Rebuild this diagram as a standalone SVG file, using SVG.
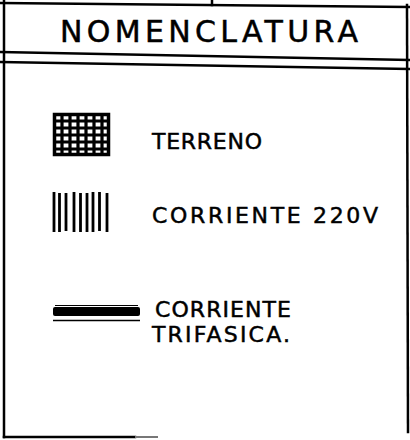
<svg xmlns="http://www.w3.org/2000/svg" width="410" height="440" viewBox="0 0 410 440">
<style>
.frame{stroke:#000;stroke-width:2.5;fill:none;stroke-linecap:square}
.t{font-family:"DejaVu Sans","Liberation Sans",Arial,sans-serif;fill:#000;stroke:#000;stroke-width:0.5}
.hatch{stroke:#000;fill:none}
</style>
<rect width="410" height="440" fill="#fff"/>
<g id="frame">
<line class="frame" x1="0" y1="3" x2="410" y2="7"/>
<line class="frame" x1="212" y1="0" x2="212" y2="5"/>
<line class="frame" x1="4" y1="0" x2="4" y2="437"/>
<line class="frame" x1="407" y1="5" x2="408" y2="432"/>
<line class="frame" x1="0" y1="52" x2="410" y2="60"/>
<line class="frame" x1="0" y1="62" x2="410" y2="69"/>
<line class="frame" x1="4" y1="437" x2="135" y2="437"/>
<line x1="135" y1="437" x2="158" y2="437" stroke="#777" stroke-width="2"/>
</g>
<g id="title">
<text class="t" x="60" y="42" font-size="30" stroke-width="0.8" textLength="298" lengthAdjust="spacing">NOMENCLATURA</text>
</g>
<g id="terreno">
<g class="hatch">
<rect x="54.5" y="114.5" width="54" height="40" stroke-width="3.5"/>
<path d="M62 114V155M70 114V155M78 114V155M86 114V155M94 114V155M102 114V155" stroke-width="3.2"/>
<path d="M54 121H109M54 128H109M54 135H109M54 142H109M54 149H109" stroke-width="3.2"/>
</g>
<text class="t" x="152" y="149" font-size="22" textLength="110" lengthAdjust="spacing">TERRENO</text>
</g>
<g id="corriente220">
<path class="hatch" stroke-width="2.8" d="M54 192V232M59.5 193V232M66 193V231M74 192V232M80.5 193V232M87 193V232M93 192V232M99.5 192V231M107 193V232"/>
<text class="t" x="152" y="223" font-size="22" textLength="226" lengthAdjust="spacing">CORRIENTE 220V</text>
</g>
<g id="trifasica">
<rect x="53" y="307" width="87" height="9" rx="2" fill="#000"/>
<line x1="55" y1="305.5" x2="138" y2="305.5" stroke="#000" stroke-width="1"/>
<line x1="53" y1="320.5" x2="140" y2="320.5" stroke="#000" stroke-width="1.5"/>
<text class="t" x="155" y="317" font-size="22" textLength="136" lengthAdjust="spacing">CORRIENTE</text>
<text class="t" x="152" y="342" font-size="22" textLength="138" lengthAdjust="spacing">TRIFASICA.</text>
</g>
</svg>
